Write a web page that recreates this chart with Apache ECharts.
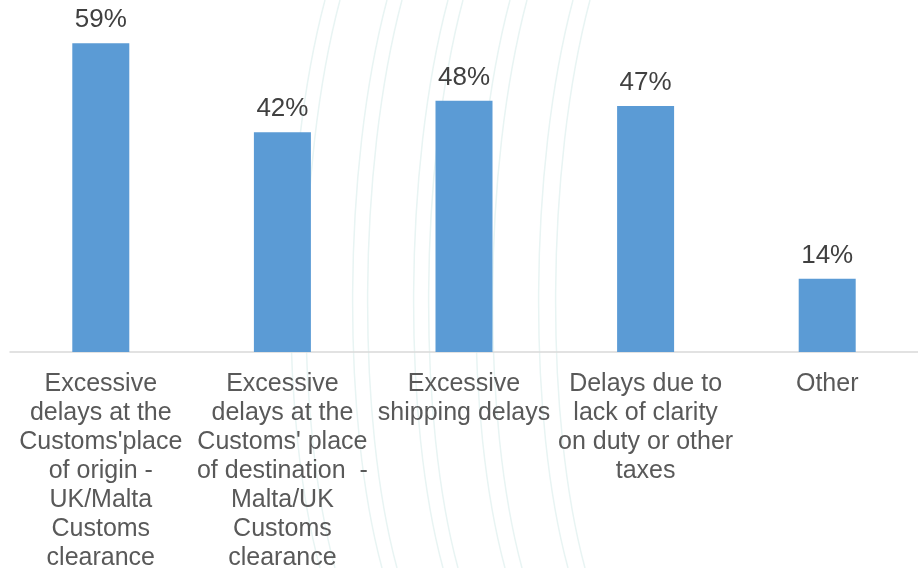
<!DOCTYPE html>
<html>
<head>
<meta charset="utf-8">
<style>
  html, body { margin: 0; padding: 0; background: #ffffff; }
  #chart { width: 918px; height: 568px; }
</style>
<script src="https://cdn.jsdelivr.net/npm/echarts@6/dist/echarts.min.js"></script>
</head>
<body>
<div id="chart"></div>
<script>
// Reported delay causes (share of respondents, %)
const categories = [
  "Excessive\ndelays at the\nCustoms'place\nof origin -\nUK/Malta\nCustoms\nclearance",
  "Excessive\ndelays at the\nCustoms' place\nof destination  -\nMalta/UK\nCustoms\nclearance",
  "Excessive\nshipping delays",
  "Delays due to\nlack of clarity\non duty or other\ntaxes",
  "Other"
];
const shares = [59, 42, 48, 47, 14];

// Faint decorative arcs behind the plot ("(" shaped strokes)
const arcTops = [325, 340, 387, 402, 448, 463, 510, 527, 573, 590];

const chart = echarts.init(document.getElementById('chart'));

const arcGraphics = arcTops.map(function (x0) {
  return {
    type: 'bezierCurve',
    z: -10,
    silent: true,
    shape: {
      x1: x0, y1: 0,
      cpx1: x0 - 45, cpy1: 170,
      cpx2: x0 - 45, cpy2: 420,
      x2: x0 - 5, y2: 568
    },
    style: { stroke: '#E8F4F3', lineWidth: 1.5, fill: null }
  };
});

chart.setOption({
  animation: false,
  backgroundColor: '#ffffff',
  textStyle: { fontFamily: 'Liberation Sans, Arial, sans-serif' },
  graphic: arcGraphics,
  grid: {
    left: 10, right: 0, top: 38, bottom: 216,
    containLabel: false,
    outerBoundsMode: 'none'
  },
  xAxis: {
    type: 'category',
    data: categories,
    axisLine: { lineStyle: { color: '#D9D9D9', width: 1.5 } },
    axisTick: { show: false },
    axisLabel: {
      interval: 0,
      color: '#595959',
      fontSize: 25,
      lineHeight: 29,
      margin: 18,
      fontFamily: 'Liberation Sans, Arial, sans-serif'
    }
  },
  yAxis: {
    type: 'value',
    min: 0,
    max: 60,
    show: false,
    splitLine: { show: false }
  },
  series: [{
    type: 'bar',
    data: shares,
    barWidth: 57,
    itemStyle: { color: '#5B9BD5' },
    label: {
      show: true,
      position: 'top',
      distance: 10,
      formatter: '{c}%',
      color: '#404040',
      fontSize: 26,
      fontFamily: 'Liberation Sans, Arial, sans-serif'
    }
  }]
});
</script>
</body>
</html>
